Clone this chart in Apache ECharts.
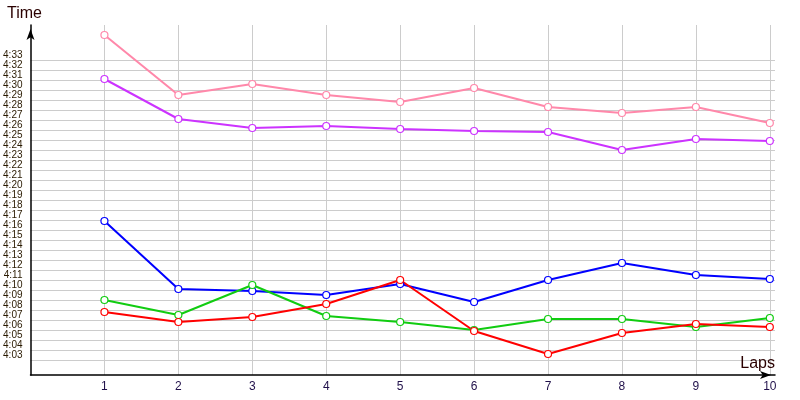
<!DOCTYPE html>
<html>
<head>
<meta charset="utf-8">
<script src="https://cdn.jsdelivr.net/npm/echarts@6/dist/echarts.min.js"></script>
<style>
html,body{margin:0;padding:0;background:#fff;}
#chart{width:800px;height:400px;}
</style>
</head>
<body>
<div id="chart"></div>
<script>
// Laps (x categories)
var laps = [1, 2, 3, 4, 5, 6, 7, 8, 9, 10];
// Lap times in seconds (4:00 = 240 s)
var pinkTimes   = [275.5, 269.5, 270.6, 269.5, 268.8, 270.2, 268.3, 267.7, 268.3, 266.7];
var purpleTimes = [271.1, 267.1, 266.2, 266.4, 266.1, 265.9, 265.8, 264.0, 265.1, 264.9];
var blueTimes   = [256.9, 250.1, 249.9, 249.5, 250.6, 248.8, 251.0, 252.7, 251.5, 251.1];
var greenTimes  = [249.0, 247.5, 250.5, 247.4, 246.8, 246.0, 247.1, 247.1, 246.3, 247.2];
var redTimes    = [247.8, 246.8, 247.3, 248.6, 251.0, 245.9, 243.6, 245.7, 246.6, 246.3];
// Y tick values (seconds), labelled 4:03 ... 4:33
var yTickValues = [243, 244, 245, 246, 247, 248, 249, 250, 251, 252, 253, 254, 255, 256, 257,
                   258, 259, 260, 261, 262, 263, 264, 265, 266, 267, 268, 269, 270, 271, 272, 273];

function fmt(v) {
  var m = Math.floor(v / 60), s = Math.round(v - m * 60);
  return m + ':' + (s < 10 ? '0' : '') + s;
}
function pairs(arr) { return laps.map(function (l, i) { return [l, arr[i]]; }); }
function mk(name, color, arr) {
  return {
    name: name, type: 'line', data: pairs(arr),
    symbol: 'circle', symbolSize: 7,
    lineStyle: { color: color, width: 2 },
    itemStyle: { color: '#ffffff', borderColor: color, borderWidth: 1.2 },
    emphasis: { disabled: true }
  };
}

var chart = echarts.init(document.getElementById('chart'));
chart.setOption({
  animation: false,
  backgroundColor: '#ffffff',
  title: [
    { text: 'Time', left: 7, top: 6, padding: 0,
      textStyle: { fontFamily: 'Liberation Sans', fontSize: 16, fontWeight: 'normal', color: '#2a0000' } },
    { text: 'Laps', right: 25, top: 356, padding: 0,
      textStyle: { fontFamily: 'Liberation Sans', fontSize: 16, fontWeight: 'normal', color: '#2a0000' } }
  ],
  grid: { left: 30.5, right: 25, top: 25, bottom: 25, containLabel: false },
  xAxis: {
    type: 'value', min: 0, max: 10.07,
    axisLine: { show: true, onZero: false, symbol: ['none', 'arrow'], symbolSize: [6, 11], symbolOffset: [0, -4],
      lineStyle: { color: '#000', width: 1.5 } },
    axisTick: { show: false, customValues: laps },
    axisLabel: { customValues: laps, margin: 6, fontFamily: 'Liberation Sans', fontSize: 12, color: '#20104a' },
    splitLine: { show: true, lineStyle: { color: '#cccccc', width: 1 } }
  },
  yAxis: {
    type: 'value', min: 241.5, max: 276.5,
    axisLine: { show: true, onZero: false, symbol: ['none', 'arrow'], symbolSize: [6, 11], symbolOffset: [0, -4],
      lineStyle: { color: '#000', width: 1.5 } },
    axisTick: { show: false, customValues: yTickValues },
    axisLabel: { customValues: yTickValues, formatter: fmt, margin: 8, verticalAlign: 'bottom',
      fontFamily: 'Liberation Sans', fontSize: 10, color: '#2a1a00' },
    splitLine: { show: true, lineStyle: { color: '#cccccc', width: 1 } }
  },
  series: [
    mk('Pink', '#ff88aa', pinkTimes),
    mk('Purple', '#cc33ff', purpleTimes),
    mk('Blue', '#0000ff', blueTimes),
    mk('Green', '#11cc11', greenTimes),
    mk('Red', '#ff0000', redTimes)
  ]
});
</script>
</body>
</html>
